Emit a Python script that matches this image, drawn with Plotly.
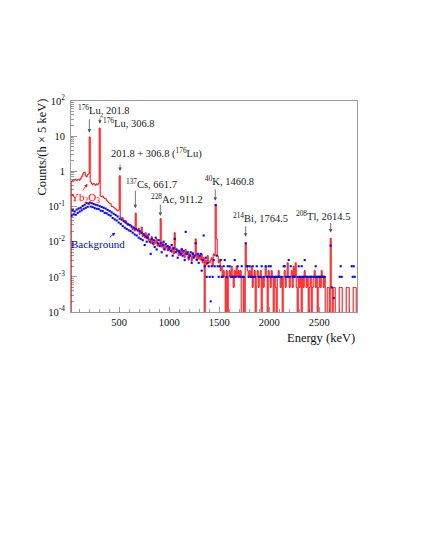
import plotly.graph_objects as go

# ---------------- data ----------------
BIN_WIDTH = 10          # keV per plotted bin
E_START = 0             # first bin edge (keV)

# Yb2O3 sample spectrum, counts/(h x 5 keV), 10-keV bins starting at 0 keV
yb2o3 = [
    0, 0, 0.52, 0.55, 0.58, 0.56, 0.6, 0.55, 0.58, 0.6,                      # 0-100
    0.56, 0.62, 0.7, 0.8, 0.9, 0.95, 0.75, 0.7, 0.8, 0.85,                   # 100-200
    9.5, 0.5, 0.45, 0.42, 0.45, 0.43, 0.4, 0.44, 0.42, 0.45,                 # 200-300
    17, 0.2, 0.19, 0.2, 0.18, 0.17, 0.17, 0.15, 0.14, 0.13,                  # 300-400
    0.12, 0.12, 0.1, 0.1, 0.095, 0.09, 0.085, 0.08, 0.075, 0.078,            # 400-500
    0.75, 0.05, 0.045, 0.048, 0.04, 0.036, 0.04, 0.032, 0.034, 0.03,         # 500-600
    0.028, 0.03, 0.025, 0.022, 0.026, 0.02, 0.065, 0.022, 0.02, 0.024,       # 600-700
    0.016, 0.019, 0.026, 0.014, 0.017, 0.013, 0.018, 0.012, 0.015, 0.011,    # 700-800
    0.012, 0.009, 0.014, 0.01, 0.008, 0.011, 0.009, 0.012, 0.0075, 0.009,    # 800-900
    0.008, 0.045, 0.007, 0.0095, 0.006, 0.008, 0.0065, 0.0075, 0.0055, 0.007,  # 900-1000
    0.006, 0.0065, 0.005, 0.007, 0.0045, 0.018, 0.006, 0.005, 0.0055, 0.004,   # 1000-1100
    0.0055, 0.004, 0.0065, 0.0045, 0.005, 0.0035, 0.006, 0.0042, 0.0048, 0.003,  # 1100-1200
    0.0045, 0.004, 0.0028, 0.005, 0.0035, 0.004, 0.012, 0.003, 0.0045, 0.0032,   # 1200-1300
    0.004, 0.003, 0.0045, 0.0025, 0.0035, 0.0, 0.003, 0.0022, 0.004, 0.0028,     # 1300-1400
    0.0025, 0.003, 0.0035, 0.002, 0.0045, 0.004, 0.11, 0.012, 0.004, 0.0025,     # 1400-1500
    0.003, 0.0015, 0.002, 0.001, 0.0015, 0.001, 0.0, 0.0015, 0.0, 0.001,         # 1500-1600
    0.0015, 0.001, 0.002, 0.001, 0.0005, 0.0015, 0.001, 0.002, 0.001, 0.0015,    # 1600-1700
    0.001, 0.0015, 0.0, 0.0, 0.001, 0.0, 0.0085, 0.002, 0.0015, 0.001,           # 1700-1800
    0.0015, 0.001, 0.002, 0.0005, 0.001, 0.0015, 0.0, 0.001, 0.0015, 0.0005,     # 1800-1900
    0.001, 0.0015, 0.0, 0.001, 0.0005, 0.001, 0.002, 0.001, 0.0, 0.0015,         # 1900-2000
    0.001, 0.0005, 0.0015, 0.001, 0.0, 0.001, 0.0005, 0.0, 0.001, 0.0015,        # 2000-2100
    0.001, 0.0005, 0.001, 0.0, 0.001, 0.0015, 0.0005, 0.001, 0.0025, 0.001,      # 2100-2200
    0.0005, 0.001, 0.0015, 0.0005, 0.002, 0.001, 0.0025, 0.0005, 0.0, 0.001,     # 2200-2300
    0.0005, 0.001, 0.0, 0.001, 0.0005, 0.0015, 0.001, 0.0005, 0.001, 0.0,        # 2300-2400
    0.0005, 0.001, 0.0, 0.0005, 0.001, 0.0015, 0.0005, 0.001, 0.0, 0.0005,       # 2400-2500
    0.001, 0.0005, 0.0015, 0.001, 0.0005, 0.001, 0.0, 0.0, 0.0005, 0.0005,       # 2500-2600
    0.0, 0.0125, 0.0005, 0.0, 0.0005, 0.0005, 0.0, 0.0, 0.0, 0.0,                # 2600-2700
    0.0005, 0.0005, 0.0005, 0.0, 0.0, 0.0, 0.0, 0.0005, 0.0005, 0.0005,          # 2700-2800
    0.0, 0.0, 0.0, 0.0, 0.0005, 0.0005, 0.0005,                                  # 2800-2870
]

# Background spectrum, counts/(h x 5 keV), same bins (None = no counts)
background = [
    None, None, 0.055, 0.078, 0.06, 0.072, 0.058, 0.082, 0.066, 0.088,
    0.072, 0.092, 0.078, 0.104, 0.086, 0.112, 0.092, 0.125, 0.098, 0.12,
    0.13, 0.1, 0.124, 0.096, 0.118, 0.09, 0.112, 0.086, 0.108, 0.084,
    0.102, 0.076, 0.097, 0.074, 0.092, 0.066, 0.087, 0.064, 0.08, 0.058,
    0.074, 0.055, 0.068, 0.047, 0.062, 0.043, 0.057, 0.04, 0.052, 0.035,
    0.045, 0.032, 0.042, 0.028, 0.038, 0.025, 0.035, 0.023, 0.031, 0.021,
    0.03, 0.02, 0.027, 0.018, 0.025, 0.016, 0.023, 0.015, 0.021, 0.013,
    0.02, 0.012, 0.018, 0.011, 0.016, 0.008, 0.014, 0.01, 0.013, 0.016,
    0.01, 0.0045, 0.012, 0.009, 0.011, 0.007, 0.013, 0.006, 0.009, 0.011,
    0.0075, 0.009, 0.005, 0.008, 0.01, 0.006, 0.0085, 0.004, 0.0075, 0.006,
    0.007, 0.0055, 0.008, 0.004, 0.0065, 0.012, 0.005, 0.006, 0.0035, 0.0055,
    0.005, 0.0045, 0.006, 0.004, 0.0055, 0.003, 0.019, 0.0045, 0.005, 0.0035,
    0.004, 0.005, 0.0025, 0.0045, 0.0035, 0.004, 0.009, 0.003, 0.0045, 0.0025,
    0.004, 0.0045, 0.0015, 0.003, 0.015, 0.002, 0.0035, 0.001, 0.0025, 0.002,
    0.001, 0.0002, 0.002, 0.001, 0.003, 0.002, 0.11, 0.004, 0.002, 0.001,
    0.002, 0.003, 0.001, 0.001, 0.002, 0.003, None, 0.001, 0.002, None,
    0.002, 0.001, None, 0.001, 0.001, 0.003, 0.001, None, 0.002, 0.001,
    None, 0.001, 0.002, 0.001, 0.001, None, 0.009, 0.002, 0.002, 0.001,
    0.002, 0.001, 0.001, 0.002, 0.001, 0.001, None, 0.002, None, 0.001,
    None, 0.001, 0.002, None, 0.001, None, 0.002, 0.001, 0.001, 0.002,
    0.001, 0.002, 0.001, 0.001, None, 0.001, 0.001, 0.001, None, 0.001,
    0.001, None, 0.001, None, 0.002, 0.002, 0.001, None, 0.001, 0.003,
    0.001, 0.002, None, 0.001, 0.001, 0.001, None, None, 0.001, 0.002,
    0.001, 0.001, 0.002, 0.001, 0.001, 0.003, 0.001, 0.001, 0.001, None,
    0.001, 0.001, 0.001, None, 0.001, 0.001, 0.002, 0.001, 0.001, 0.001,
    0.001, 0.001, 0.001, 0.001, 0.001, 0.001, None, None, None, None,
    None, 0.0077, 0.0005, None, 0.00025, None, None, None, None, None,
    0.001, 0.002, 0.001, None, None, None, None, None, None, None,
    None, None, 0.002, 0.001, 0.002, 0.001, None,
]

# peak labels: (text, peak energy keV, arrow-head log10 y, arrow length px, text x keV, text log10 y)
peak_labels = [
    ("<sup>176</sup>Lu, 201.8", 201.8, 1.10, 15, 350, 1.77),
    ("<sup>176</sup>Lu, 306.8", 306.8, 1.35, 7, 597, 1.39),
    ("201.8 + 306.8 (<sup>176</sup>Lu)", 508.6, 0.01, 8, 868, 0.53),
    ("<sup>137</sup>Cs, 661.7", 661.7, -1.05, 19, 818, -0.34),
    ("<sup>228</sup>Ac, 911.2", 911.2, -1.27, 13, 1080, -0.77),
    ("<sup>40</sup>K, 1460.8", 1460.8, -0.84, 13, 1598, -0.25),
    ("<sup>214</sup>Bi, 1764.5", 1764.5, -1.86, 12, 1917, -1.32),
    ("<sup>208</sup>Tl, 2614.5", 2614.5, -1.74, 11, 2540, -1.26),
]

y_ticks = [1e-4, 1e-3, 1e-2, 1e-1, 1, 10, 100]
y_ticktext = ["10<sup>-4</sup>", "10<sup>-3</sup>", "10<sup>-2</sup>",
              "10<sup>-1</sup>", "1", "10", "10<sup>2</sup>"]
x_ticks = [500, 1000, 1500, 2000, 2500]

# ---------------- figure ----------------
FLOOR = 1e-7  # empty bins drawn below the axis
nbins = len(yb2o3)
edges = [E_START + i * BIN_WIDTH for i in range(nbins + 1)]
centers = [E_START + (i + 0.5) * BIN_WIDTH for i in range(nbins)]
red_y = [v if v > 0 else FLOOR for v in yb2o3] + [FLOOR]

RED = "#ff0000"
BLUE = "#0000ff"
FRAME = "#9a9a9a"
ARROW = "#555555"
FONT = "Times New Roman, Liberation Serif, serif"

fig = go.Figure()
fig.add_trace(go.Scatter(
    x=edges, y=red_y, mode="lines", line=dict(color=RED, width=1, shape="hv"),
    showlegend=False, hoverinfo="skip"))
fig.add_trace(go.Scatter(
    x=centers, y=background, mode="markers",
    marker=dict(color=BLUE, size=2.1, symbol="square", line=dict(width=0)),
    showlegend=False, hoverinfo="skip"))

ann = []
for text, e, yhead, alen, tx, ty in peak_labels:
    ann.append(dict(x=e, y=yhead, xref="x", yref="y", text="", showarrow=True,
                    ax=0, ay=-alen, arrowhead=2, arrowsize=0.9, arrowwidth=0.8,
                    arrowcolor=ARROW))
    ann.append(dict(x=tx, y=ty, xref="x", yref="y", text=text, showarrow=False,
                    font=dict(family=FONT, size=10.5, color="#222222"),
                    xanchor="center", yanchor="middle"))

# short horizontal hook on top of the 306.8 arrow
ann.append(dict(x=306.8, y=1.35 + 7 / 35.17, xref="x", yref="y", text="",
                showarrow=True, ax=5, ay=0, arrowhead=0, arrowwidth=0.8,
                arrowcolor=ARROW))

ann.append(dict(x=163, y=-0.75, xref="x", yref="y",
                text="Yb<sub>2</sub>O<sub>3</sub>", showarrow=False,
                font=dict(family=FONT, size=11, color=RED)))
ann.append(dict(x=183, y=-0.36, xref="x", yref="y", text="", showarrow=True,
                ax=-6, ay=8, arrowhead=2, arrowsize=0.8, arrowwidth=0.8,
                arrowcolor=RED))
ann.append(dict(x=283, y=-2.07, xref="x", yref="y", text="Background",
                showarrow=False, font=dict(family=FONT, size=11, color=BLUE)))
ann.append(dict(x=460, y=-1.745, xref="x", yref="y", text="", showarrow=True,
                ax=-7, ay=6, arrowhead=2, arrowsize=0.8, arrowwidth=0.8,
                arrowcolor=BLUE))

ann.append(dict(x=-0.101, y=0.78, xref="paper", yref="paper",
                text="Counts/(h × 5 keV)", textangle=-90, showarrow=False,
                font=dict(family=FONT, size=12.5, color="#111111"),
                xanchor="center", yanchor="middle"))
ann.append(dict(x=1.0, y=-0.122, xref="paper", yref="paper",
                text="Energy (keV)", showarrow=False,
                font=dict(family=FONT, size=12.5, color="#111111"),
                xanchor="right", yanchor="middle"))

minor_y = [k * 10.0 ** d for d in range(-4, 2) for k in range(2, 10)]

fig.update_layout(
    width=421, height=545,
    margin=dict(l=63, r=72, t=93, b=241),
    paper_bgcolor="white", plot_bgcolor="white",
    annotations=ann,
    font=dict(family=FONT, size=10, color="#111111"),
    xaxis=dict(
        range=[18, 2878], tickvals=x_ticks, ticks="inside", ticklen=5,
        tickcolor=FRAME, tickwidth=1, showline=True, linecolor=FRAME,
        linewidth=1, mirror=True, showgrid=False, zeroline=False,
        tickfont=dict(family=FONT, size=10.5), ticklabelstandoff=0,
        layer="below traces",
        minor=dict(dtick=100, ticks="inside", ticklen=3, tickcolor=FRAME,
                   showgrid=False),
    ),
    yaxis=dict(
        type="log", range=[-4, 2], tickvals=y_ticks, ticktext=y_ticktext,
        ticks="inside", ticklen=6, tickcolor=FRAME, tickwidth=1,
        showline=True, linecolor=FRAME, linewidth=1, mirror=True,
        showgrid=False, zeroline=False, tickfont=dict(family=FONT, size=10.5),
        ticklabelstandoff=3, layer="below traces",
        minor=dict(tickvals=minor_y, ticks="inside", ticklen=3,
                   tickcolor=FRAME, showgrid=False),
    ),
)

fig.write_html("out.html")
